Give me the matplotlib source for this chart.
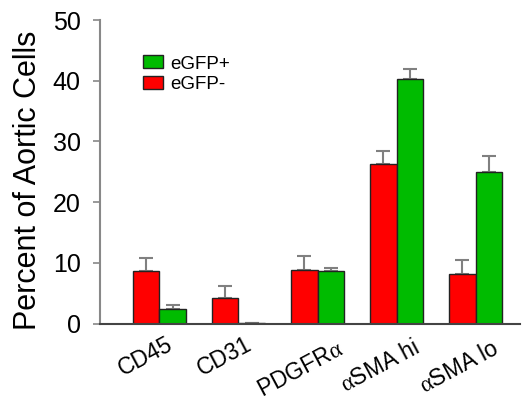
import matplotlib
matplotlib.use("Agg")
import matplotlib.pyplot as plt
import matplotlib.transforms as mtransforms
import numpy as np

categories = ["CD45", "CD31", r"PDGFR$\mathrm{\alpha}$", r"$\mathrm{\alpha}$SMA hi", r"$\mathrm{\alpha}$SMA lo"]
neg_values = [8.7, 4.2, 8.75, 26.2, 8.15]
neg_err = [2.1, 2.0, 2.35, 2.2, 2.35]
pos_values = [2.45, 0.1, 8.6, 40.2, 24.9]
pos_err = [0.6, 0.0, 0.55, 1.7, 2.7]
yticks = [0, 10, 20, 30, 40, 50]

plt.rcParams['font.family'] = ['Liberation Sans', 'DejaVu Sans']
plt.rcParams['mathtext.fontset'] = 'custom'
plt.rcParams['mathtext.rm'] = 'Liberation Serif'
plt.rcParams['mathtext.it'] = 'Liberation Serif:italic'

fig = plt.figure(figsize=(5.28, 4.0), dpi=100)
ax = fig.add_axes([100/528, 1-323.5/400, 420/528, 303.5/400])

x = np.arange(len(categories))
w = 0.33
red = "#ff0000"
green = "#00bb00"
ax.bar(x - w/2, neg_values, w, color=red, edgecolor="#222222", linewidth=1.0, label="eGFP-", zorder=2)
ax.bar(x + w/2, pos_values, w, color=green, edgecolor="#222222", linewidth=1.0, label="eGFP+", zorder=2)
ax.errorbar(x - w/2, neg_values, yerr=[np.zeros(len(x)), neg_err], fmt="none",
            ecolor="#808080", elinewidth=1.5, capsize=4.8, capthick=1.5, zorder=1)
ax.errorbar(x + w/2, pos_values, yerr=[np.zeros(len(x)), pos_err], fmt="none",
            ecolor="#808080", elinewidth=1.5, capsize=4.8, capthick=1.5, zorder=1)

ax.set_xlim(-0.753, 4.563)
ax.set_ylim(0, 50)
ax.set_yticks(yticks)
ax.tick_params(axis='y', direction='out', length=5, width=1.2, color="#888888", labelsize=18, pad=9)
ax.tick_params(axis='x', length=0, labelsize=16.5, pad=0)
ax.set_xticks(x)
ax.set_xticklabels(categories, rotation=28, ha='center', va='center', rotation_mode='anchor')

for s in ["top", "right"]:
    ax.spines[s].set_visible(False)
ax.spines["left"].set_color("#888888")
ax.spines["left"].set_linewidth(1.5)
ax.spines["bottom"].set_color("#444444")
ax.spines["bottom"].set_linewidth(1.5)

ax.set_ylabel("Percent of Aortic Cells", fontsize=22)
ax.yaxis.set_label_coords(-0.136, 0.473)

handles, labels = ax.get_legend_handles_labels()
fig.legend(handles[::-1], labels[::-1], loc="upper left", bbox_to_anchor=(135/528, 1-48/400),
           borderaxespad=0, frameon=False, fontsize=13.5, handlelength=1.07, handleheight=0.68,
           handletextpad=0.4, labelspacing=0.2)

# place rotated category labels: centre shifted left and lowered with text length
renderer = fig.canvas.get_renderer()
for lbl in ax.get_xticklabels():
    tmp = fig.text(0, 0, lbl.get_text(), fontsize=16.5)
    L = tmp.get_window_extent(renderer).width
    tmp.remove()
    dx = -(8 + 0.1 * L) / 100
    dy = -(12.5 + 0.357 * L) / 100
    lbl.set_transform(lbl.get_transform() + mtransforms.ScaledTranslation(dx, dy, fig.dpi_scale_trans))

fig.savefig("out.png", dpi=100)
